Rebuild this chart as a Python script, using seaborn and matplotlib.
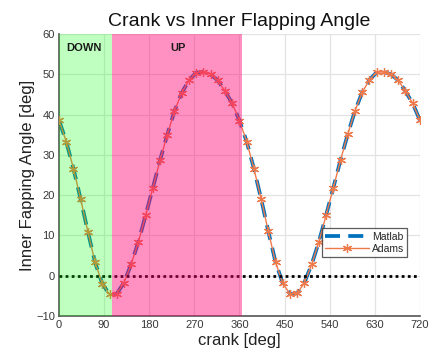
import matplotlib
matplotlib.use("Agg")
import matplotlib.pyplot as plt
import seaborn as sns
import numpy as np
import pandas as pd

# crank angle samples [deg], step 14.4
crank = [round(i * 14.4, 1) for i in range(51)]

# inner flapping angle [deg] over two crank revolutions
flap = [
    38.6, 33.3, 26.6, 19.0, 10.9, 3.3, -2.0, -4.6, -4.5, -1.7,
    2.9, 8.4, 15.0, 21.8, 28.7, 35.0, 40.9, 45.4, 48.5, 50.4,
    50.6, 50.0, 48.5, 45.8, 42.8,
    38.5, 33.3, 26.6, 19.1, 11.0, 3.4, -1.9, -4.5, -4.4, -1.7,
    2.8, 8.4, 15.0, 21.8, 28.7, 35.1, 40.9, 45.5, 48.6, 50.5,
    50.6, 50.0, 48.5, 45.8, 42.8, 38.6,
]

down_range = (0, 106)
up_range = (106, 366)
xticks = [0, 90, 180, 270, 360, 450, 540, 630, 720]
yticks = [-10, 0, 10, 20, 30, 40, 50, 60]

df = pd.DataFrame({"crank": crank, "flap": flap})

sns.set_style("whitegrid")
plt.rcParams["font.family"] = ["Liberation Sans", "DejaVu Sans"]

fig = plt.figure(figsize=(4.32, 3.62), dpi=100)
ax = fig.add_axes([0.1366, 0.127, 0.8354, 0.779])

sns.lineplot(data=df, x="crank", y="flap", ax=ax, color="#0072BD",
             linewidth=2.7, label="Matlab", zorder=2)
ax.lines[-1].set_dashes([4, 2.2])
# asterisk marker: six-armed star made of strokes
sns.lineplot(data=df, x="crank", y="flap", ax=ax, color="#EE7A4C",
             linewidth=1.0, marker=(6, 2, 0), markersize=6.5,
             markeredgewidth=0.9, markeredgecolor="#EE7A4C",
             label="Adams", zorder=3)

ax.plot([0, 720], [0, 0], color="black", linestyle=(0, (1, 1.2)),
        linewidth=2.0, zorder=4)

ax.axvspan(*down_range, color=(0.0, 1.0, 0.0), alpha=0.25, lw=0, zorder=5)
ax.axvspan(*up_range, color=(1.0, 0.0, 0.45), alpha=0.43, lw=0, zorder=5)

ax.text(14, 56.5, "DOWN", fontsize=8, fontweight="bold", va="center",
        ha="left", color="#1a1a1a", zorder=6)
ax.text(238, 56.5, "UP", fontsize=8, fontweight="bold", va="center",
        ha="center", color="#1a1a1a", zorder=6)

ax.set_xlim(0, 720)
ax.set_ylim(-10, 60)
ax.set_xticks(xticks)
ax.set_yticks(yticks)
ax.grid(True, color="#e3e3e3", linewidth=0.9)
ax.tick_params(axis="both", labelsize=8, colors="#383838", length=3,
               direction="in", pad=3)
for side in ("top", "right"):
    ax.spines[side].set_visible(False)
for side in ("left", "bottom"):
    ax.spines[side].set_color("#555555")
    ax.spines[side].set_linewidth(1.2)

ax.set_title("Crank vs Inner Flapping Angle", fontsize=14, color="#111111", pad=6)
ax.set_xlabel("crank [deg]", fontsize=12, color="#222222", labelpad=2)
ax.set_ylabel("Inner Fapping Angle [deg]", fontsize=12, color="#222222", labelpad=1)

leg = ax.legend(loc="lower right", bbox_to_anchor=(0.98, 0.19), fontsize=7.5,
                frameon=True, fancybox=False, handlelength=4.2,
                borderpad=0.3, labelspacing=0.25, handletextpad=0.3)
leg.get_frame().set_edgecolor("#333333")
leg.get_frame().set_linewidth(0.9)
leg.set_zorder(7)

fig.savefig("out.png", dpi=100)
